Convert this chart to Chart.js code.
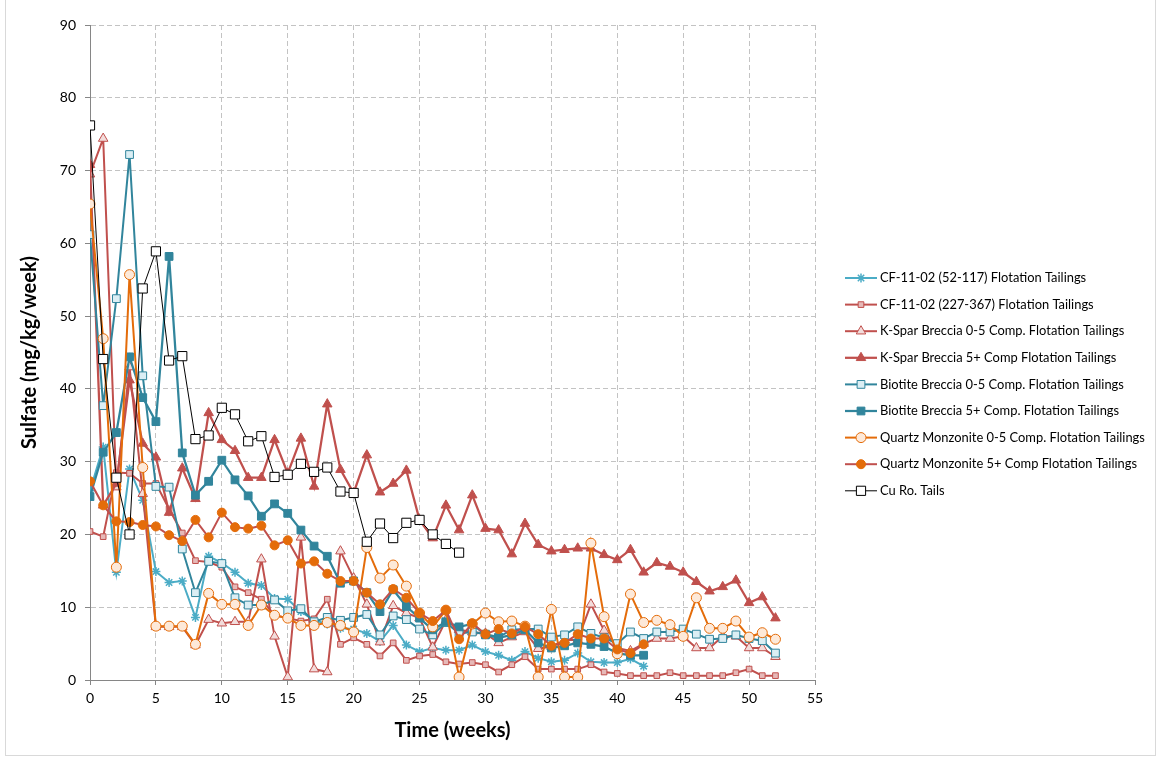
<!DOCTYPE html>
<html>
<head>
<meta charset="utf-8">
<script src="https://cdn.jsdelivr.net/npm/chart.js@4.4.1/dist/chart.umd.min.js"></script>
<style>
  html, body { margin: 0; padding: 0; background: #fff; }
  #wrap { position: relative; width: 1159px; height: 757px; }
  #frame { position: absolute; left: 5px; top: -1px; width: 1151px; height: 757px;
           border: 1px solid #d9d9d9; box-sizing: border-box; pointer-events: none; }
</style>
</head>
<body>
<div id="wrap">
  <canvas id="chart" width="1159" height="757"></canvas>
  <div id="frame"></div>
</div>
<script>
// Week of each weekly leach sample
const weeks = [0,1,2,3,4,5,6,7,8,9,10,11,12,13,14,15,16,17,18,19,20,21,22,23,24,25,
  26,27,28,29,30,31,32,33,34,35,36,37,38,39,40,41,42,43,44,45,46,47,48,49,50,51,52];

// Sulfate release, mg/kg/week
const cf52_117 = [26,32,14.8,29,24.7,14.9,13.4,13.6,8.6,17,16.1,14.8,13.3,13.0,11.2,11.1,9.4,8.2,7.7,7.1,
  7.0,6.4,5.3,7.5,4.8,3.9,4.4,4.1,4.1,4.8,3.9,3.4,2.7,3.9,3.0,2.5,2.7,3.7,2.5,2.4,2.4,2.9,1.9];
const cf227_367 = [20.4,19.7,28.5,28.4,27,27,23.5,20.2,16.4,16.2,15.5,12.8,12.0,11.1,8.9,8.5,8.1,8.4,11.1,4.9,
  5.8,4.9,3.3,5.1,2.7,3.3,3.5,2.5,2.2,2.4,2.1,1.1,2.1,3.2,1.5,1.5,1.5,1.5,2.1,1.1,0.9,0.6,0.6,0.6,1.0,0.6,
  0.6,0.6,0.6,1.0,1.5,0.6,0.6];
const kspar05 = [69.5,74.4,26.5,43,25.6,7.3,7.3,7.3,4.8,8.3,7.8,8.0,8.0,16.6,6.0,0.4,19.6,1.5,1.1,17.7,
  14,10.4,5.2,10.2,9.2,8.5,4.5,8.2,6.9,6.6,6.4,5.1,5.9,6.6,4.3,4.6,5.5,5.5,10.4,6.8,4.4,4.0,5.0,5.7,5.7,6.0,
  4.4,4.4,6.0,6.0,4.4,4.4,3.2];
const kspar5p = [70.8,24,27,41.2,32.5,30.6,23,29.1,24.9,36.7,33,31.5,27.8,27.8,33,28.4,33.2,26.6,37.9,28.9,
  25.7,30.9,25.8,27.0,28.8,22.0,19.5,24.0,20.6,25.4,20.8,20.6,17.3,21.5,18.6,17.7,17.9,18.1,18.1,17.2,16.5,
  17.9,14.8,16.1,15.6,14.8,13.5,12.2,12.8,13.7,10.6,11.4,8.5];
const biotite05 = [61.2,37.7,52.4,72.2,41.8,26.6,26.5,18,12,16.3,16.0,11.3,10.3,10.3,11,9.5,9.8,8.0,8.6,8.2,
  8.6,9.0,6.2,8.8,8.3,7.0,6.2,7.9,6.4,6.6,6.3,5.9,6.9,7.0,7.0,5.9,6.2,7.3,6.4,5.8,5.0,6.6,5.7,6.6,6.6,7.0,
  6.3,5.6,5.7,6.2,5.7,5.4,3.7];
const biotite5p = [25.2,31.3,34,44.4,38.8,35.5,58.2,31.2,25.4,27.3,30.2,27.5,25.3,22.5,24.2,22.9,20.6,18.4,
  17.0,13.3,13.6,12.0,9.4,12.4,10.1,8.5,6.9,8.0,7.3,7.7,6.2,5.8,6.2,6.9,5.1,4.4,4.7,5.1,4.9,4.6,3.7,3.4,3.4];
const qm05 = [65.4,46.9,15.5,55.7,29.2,7.4,7.4,7.4,4.9,11.9,10.4,10.4,7.5,10.3,8.9,8.5,7.5,7.5,7.9,7.5,
  6.6,18.2,14.0,15.8,12.9,9.2,7.3,9.6,0.4,7.7,9.2,8.0,8.1,7.4,0.4,9.7,0.4,0.4,18.8,8.7,3.6,11.8,7.9,8.2,
  7.6,6.0,11.3,7.1,7.1,8.1,5.9,6.5,5.6];
const qm5p = [27.3,24,21.8,21.7,21.3,21.1,19.9,19.1,22,19.6,23,21,20.8,21.2,18.5,19.2,16.0,16.3,14.6,13.6,
  13.6,12.0,10.4,12.5,11.3,9.2,8.1,9.6,5.6,7.8,6.3,7.0,6.4,7.3,6.3,4.7,5.1,6.3,5.7,5.7,4.2,3.7,4.9];
const cuRoTails = [76.2,44.1,27.8,20,53.8,58.9,43.9,44.5,33.1,33.6,37.4,36.5,32.8,33.5,27.9,28.2,29.7,28.6,
  29.2,25.9,25.7,19.0,21.5,19.5,21.6,22.0,20.0,18.7,17.5];

const seriesNames = [
  'CF-11-02 (52-117) Flotation Tailings',
  'CF-11-02 (227-367) Flotation Tailings',
  'K-Spar Breccia 0-5 Comp. Flotation Tailings',
  'K-Spar Breccia 5+ Comp Flotation Tailings',
  'Biotite Breccia 0-5 Comp. Flotation Tailings',
  'Biotite Breccia 5+ Comp. Flotation Tailings',
  'Quartz Monzonite 0-5 Comp. Flotation Tailings',
  'Quartz Monzonite 5+ Comp Flotation Tailings',
  'Cu Ro. Tails'
];
const seriesValues = [cf52_117, cf227_367, kspar05, kspar5p, biotite05, biotite5p, qm05, qm5p, cuRoTails];

const yTicks = [0,10,20,30,40,50,60,70,80,90];
const xTicks = [0,5,10,15,20,25,30,35,40,45,50,55];

// Line and marker styling per series
const styles = [
  { line: '#4bacc6', style: 'star',     r: 4.5, fill: '#b7dee8', edge: '#4bacc6', w: 2 },
  { line: '#c0504d', style: 'rect',     r: 4,   fill: '#e6b9b8', edge: '#c0504d', w: 2 },
  { line: '#c0504d', style: 'triangle', r: 5.5, fill: '#f2dcdb', edge: '#c0504d', w: 2 },
  { line: '#c0504d', style: 'triangle', r: 5.5, fill: '#c0504d', edge: '#c0504d', w: 2.25 },
  { line: '#31859c', style: 'rect',     r: 5.5, fill: '#dbeef4', edge: '#31859c', w: 2 },
  { line: '#31859c', style: 'rect',     r: 5.5, fill: '#31859c', edge: '#31859c', w: 2.25 },
  { line: '#e46c0a', style: 'circle',   r: 5,   fill: '#fde9d9', edge: '#e46c0a', w: 2 },
  { line: '#c0504d', style: 'circle',   r: 4.5, fill: '#e46c0a', edge: '#e46c0a', w: 2 },
  { line: '#000000', style: 'rect',     r: 6.5, fill: '#ffffff', edge: '#000000', w: 1 }
];

const FONT = 'Lato, "Open Sans", "Liberation Sans", sans-serif';

const datasets = seriesNames.map((name, i) => ({
  label: name,
  data: seriesValues[i].map((v, k) => ({ x: weeks[k], y: v })),
  borderColor: styles[i].line,
  borderWidth: styles[i].w,
  backgroundColor: styles[i].fill,
  pointStyle: styles[i].style,
  pointRadius: styles[i].r,
  pointHoverRadius: styles[i].r,
  pointBackgroundColor: styles[i].fill,
  pointBorderColor: styles[i].edge,
  pointBorderWidth: styles[i].style === 'star' ? 1.5 : 1,
  tension: 0,
  fill: false,
  order: seriesNames.length - i
}));

// Legend drawn as line + marker samples to the right of the plot
const sideLegend = {
  id: 'sideLegend',
  afterDraw(chart) {
    const ctx = chart.ctx;
    const x0 = 845, x1 = 877, tx = 880, top = 278, step = 26.6;
    ctx.save();
    ctx.font = '12.9px ' + FONT;
    ctx.textBaseline = 'middle';
    ctx.textAlign = 'left';
    seriesNames.forEach((name, i) => {
      const s = styles[i];
      const y = top + i * step;
      ctx.strokeStyle = s.line;
      ctx.lineWidth = s.w;
      ctx.setLineDash([]);
      ctx.beginPath();
      ctx.moveTo(x0, y);
      ctx.lineTo(x1, y);
      ctx.stroke();
      ctx.fillStyle = s.fill;
      ctx.strokeStyle = s.edge;
      ctx.lineWidth = s.style === 'star' ? 1.5 : 1;
      Chart.helpers.drawPoint(ctx, { pointStyle: s.style, radius: s.r, rotation: 0, borderWidth: ctx.lineWidth }, (x0 + x1) / 2, y);
      ctx.fillStyle = '#000';
      ctx.fillText(name, tx, y);
    });
    ctx.restore();
  }
};

new Chart(document.getElementById('chart'), {
  type: 'line',
  data: { datasets },
  plugins: [sideLegend],
  options: {
    responsive: false,
    animation: false,
    devicePixelRatio: 1,
    layout: { padding: { left: 0, right: 344, top: 25, bottom: 0 } },
    plugins: { legend: { display: false }, tooltip: { enabled: false } },
    scales: {
      x: {
        type: 'linear', min: 0, max: 55,
        afterBuildTicks: s => { s.ticks = xTicks.map(v => ({ value: v })); },
        afterFit: s => { s.height = 77; },
        ticks: { color: '#000', font: { family: FONT, size: 14 }, padding: 5, maxRotation: 0 },
        grid: { color: '#c3c3c3', lineWidth: 1, drawTicks: true, tickLength: 5, tickColor: '#868686' },
        border: { display: true, color: '#868686', width: 1, dash: [5, 3] },
        title: { display: true, text: 'Time (weeks)', color: '#000',
                 font: { family: FONT, size: 20, weight: 'bold' }, padding: { top: 14, bottom: 14 } }
      },
      y: {
        type: 'linear', min: 0, max: 90,
        afterBuildTicks: s => { s.ticks = yTicks.map(v => ({ value: v })); },
        afterFit: s => { s.width = 90; },
        ticks: { color: '#000', font: { family: FONT, size: 14 }, padding: 9 },
        grid: { color: '#c3c3c3', lineWidth: 1, drawTicks: true, tickLength: 5, tickColor: '#868686' },
        border: { display: true, color: '#868686', width: 1, dash: [5, 3] },
        title: { display: true, text: 'Sulfate (mg/kg/week)', color: '#000',
                 font: { family: FONT, size: 20, weight: 'bold' }, padding: { top: 18, bottom: 18 } }
      }
    }
  }
});
</script>
</body>
</html>
